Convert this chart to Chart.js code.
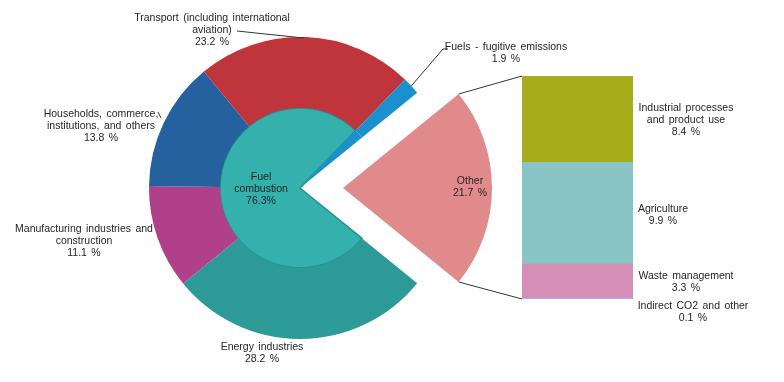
<!DOCTYPE html>
<html>
<head>
<meta charset="utf-8">
<script src="https://cdn.jsdelivr.net/npm/chart.js@4.4.1/dist/chart.umd.min.js"></script>
<style>
  body { margin: 0; background: #fff; }
  #wrap { position: relative; width: 784px; height: 382px; }
  #wrap canvas { position: absolute; left: 0; top: 0; }
</style>
</head>
<body>
<div id="wrap">
  <canvas id="pieChart" width="784" height="382"></canvas>
  <canvas id="otherChart" width="784" height="382"></canvas>
  <canvas id="barChart" width="784" height="382"></canvas>
</div>
<script>
  // outer ring, clockwise starting after the "Other" gap
  const ringLabels = ['Energy industries', 'Manufacturing industries and construction', 'Households, commerce, institutions, and others', 'Transport (including international aviation)', 'Fuels - fugitive emissions', 'Other'];
  const ringValues = [28.2, 11.1, 13.8, 23.2, 1.9, 21.7];
  const ringColors = ['#2c9b98', '#b0408a', '#25609f', '#bf353b', '#1a90cf', 'rgba(0,0,0,0)'];

  // inner disk
  const innerLabels = ['Fuel combustion', 'Fuels - fugitive emissions', 'Other'];
  const innerValues = [76.3, 1.9, 21.7];
  const innerColors = ['#34b0ad', '#1a90cf', 'rgba(0,0,0,0)'];

  // breakdown of "Other" (stack order bottom to top)
  const otherLabels = ['Indirect CO2 and other', 'Waste management', 'Agriculture', 'Industrial processes and product use'];
  const otherValues = [0.1, 3.3, 9.9, 8.4];
  const otherColors = ['#b4a9de', '#d58fb6', '#8ac5c5', '#a6ad1c'];
  const otherColor = '#e08a8b';

  const total = ringValues.reduce((a, b) => a + b, 0);
  const otherShare = ringValues[5];
  const rotation = 90 + (otherShare / total) * 180; // "Other" centred on the right

  Chart.defaults.font.family = '"Liberation Sans", Arial, sans-serif';
  Chart.defaults.animation = false;

  const noPlugins = { legend: { display: false }, tooltip: { enabled: false } };

  var pieChart = new Chart(document.getElementById('pieChart'), {
    type: 'pie',
    data: {
      labels: ringLabels,
      datasets: [
        { data: ringValues, backgroundColor: ringColors, borderWidth: 0, weight: 71 },
        { data: innerValues, backgroundColor: innerColors,
          borderColor: ['#27908d', 'rgba(0,0,0,0)', 'rgba(0,0,0,0)'],
          borderWidth: [1.5, 0, 0], weight: 80 }
      ]
    },
    options: {
      responsive: false,
      events: [],
      radius: 151,
      rotation: rotation,
      layout: { padding: { left: 0, right: 184, top: 0, bottom: 6 } },
      plugins: noPlugins
    }
  });

  // exploded "Other" wedge
  var otherChart = new Chart(document.getElementById('otherChart'), {
    type: 'pie',
    data: {
      labels: ringLabels,
      datasets: [{
        data: ringValues,
        backgroundColor: ringValues.map((v, i) => i === 5 ? otherColor : 'rgba(0,0,0,0)'),
        borderWidth: 0
      }]
    },
    options: {
      responsive: false,
      events: [],
      radius: 149,
      rotation: rotation,
      layout: { padding: { left: 0, right: 98, top: 0, bottom: 6 } },
      plugins: noPlugins
    }
  });

  const textLabels = [
    { lines: ['Transport (including international', 'aviation)', '23.2 %'], x: 212, y: 18 },
    { lines: ['Fuels - fugitive emissions', '1.9 %'], x: 506, y: 47 },
    { lines: ['Households, commerce,', 'institutions, and others', '13.8 %'], x: 101, y: 114 },
    { lines: ['Manufacturing industries and', 'construction', '11.1 %'], x: 84, y: 229 },
    { lines: ['Energy industries', '28.2 %'], x: 262, y: 347 },
    { lines: ['Fuel', 'combustion', '76.3%'], x: 261, y: 177 },
    { lines: ['Other', '21.7 %'], x: 470, y: 181 },
    { lines: ['Industrial processes', 'and product use', '8.4 %'], x: 686, y: 108 },
    { lines: ['Agriculture', '9.9 %'], x: 663, y: 209 },
    { lines: ['Waste management', '3.3 %'], x: 686, y: 276 },
    { lines: ['Indirect CO2 and other', '0.1 %'], x: 693, y: 306 }
  ];

  const annotations = {
    id: 'annotations',
    afterDraw(chart) {
      const ctx = chart.ctx;
      ctx.save();
      ctx.strokeStyle = '#333';
      ctx.lineWidth = 1;

      // connectors from the exploded wedge to the bar
      const wedge = otherChart.getDatasetMeta(0).data[5];
      const top = chart.getDatasetMeta(otherValues.length - 1).data[0];
      const bottom = chart.getDatasetMeta(0).data[0];
      const r = wedge.outerRadius;
      ctx.beginPath();
      ctx.moveTo(wedge.x + r * Math.cos(wedge.startAngle), wedge.y + r * Math.sin(wedge.startAngle));
      ctx.lineTo(top.x - top.width / 2, top.y);
      ctx.moveTo(wedge.x + r * Math.cos(wedge.endAngle), wedge.y + r * Math.sin(wedge.endAngle));
      ctx.lineTo(bottom.x - bottom.width / 2, bottom.base);
      ctx.stroke();

      // leader lines
      const ring = pieChart.getDatasetMeta(0).data;
      const cx = ring[0].x, cy = ring[0].y, R = ring[0].outerRadius;
      const tr = ring[3];
      const aT = tr.startAngle + (tr.endAngle - tr.startAngle) * 0.49;
      const fu = ring[4];
      const aF = (fu.startAngle + fu.endAngle) / 2;
      ctx.beginPath();
      ctx.moveTo(237, 31);
      ctx.lineTo(cx + R * Math.cos(aT), cy + R * Math.sin(aT) + 1);
      ctx.moveTo(cx + R * Math.cos(aF), cy + R * Math.sin(aF));
      ctx.lineTo(443, 49);
      ctx.lineTo(448, 49);
      ctx.moveTo(158, 112);
      ctx.lineTo(161, 118);
      ctx.stroke();

      // texts
      ctx.fillStyle = '#262626';
      ctx.font = '10.5px "Liberation Sans", Arial, sans-serif';
      ctx.textAlign = 'center';
      ctx.textBaseline = 'middle';
      if ('wordSpacing' in ctx) ctx.wordSpacing = '1.5px';
      textLabels.forEach(l => {
        l.lines.forEach((s, i) => ctx.fillText(s, l.x, l.y + i * 12));
      });
      ctx.restore();
    }
  };

  var barChart = new Chart(document.getElementById('barChart'), {
    type: 'bar',
    data: {
      labels: ['Other'],
      datasets: otherLabels.map((name, i) => ({
        label: name,
        data: [otherValues[i]],
        backgroundColor: otherColors[i],
        borderWidth: 0,
        barPercentage: 1,
        categoryPercentage: 1
      }))
    },
    options: {
      responsive: false,
      events: [],
      layout: { padding: { left: 522, right: 151, top: 76, bottom: 83 } },
      scales: {
        x: { stacked: true, display: false },
        y: { stacked: true, display: false, min: 0, max: otherValues.reduce((a, b) => a + b, 0) }
      },
      plugins: noPlugins
    },
    plugins: [annotations]
  });
</script>
</body>
</html>
